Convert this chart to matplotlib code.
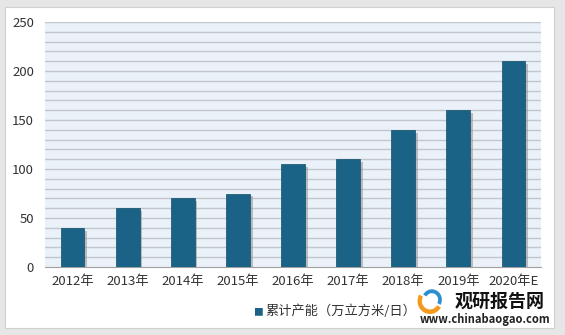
import matplotlib
matplotlib.use("Agg")
import matplotlib.pyplot as plt
from matplotlib.patches import Rectangle, Wedge
import matplotlib.patheffects as pe

plt.rcParams['font.family'] = ['Noto Sans CJK SC', 'DejaVu Sans']

categories = ["2012年", "2013年", "2014年", "2015年", "2016年", "2017年", "2018年", "2019年", "2020年E"]
values = [40, 60, 70, 75, 105, 110, 140, 160, 210]
series_name = "累计产能（万立方米/日）"
yticks = [0, 50, 100, 150, 200, 250]

W, H = 565, 335
fig = plt.figure(figsize=(W / 100, H / 100), dpi=100)
fig.patch.set_facecolor("#E6E6E6")

# white panel
panel = Rectangle((5 / W, 7 / H), 549 / W, 321 / H, transform=fig.transFigure,
                  facecolor="white", edgecolor="#D0D0D0", lw=0.8, zorder=-5)
fig.patches.append(panel)

ax = fig.add_axes([45 / W, (H - 267) / H, 496 / W, 245 / H])
ax.set_zorder(2)
ax.set_facecolor("#EAF1F8")
x = range(len(categories))
bars = ax.bar(x, values, width=0.43, color="#1A6386", zorder=3,
              edgecolor="#0F4E6B", linewidth=0.5)
for b in bars:
    b.set_path_effects([pe.SimplePatchShadow(offset=(2, -2), shadow_rgbFace="#888888", alpha=0.5), pe.Normal()])

ax.set_xlim(-0.5, len(categories) - 0.5)
ax.set_ylim(0, 250)
ax.set_yticks(yticks)
for v in range(10, 251, 10):
    ax.axhline(v, color="#C3C7CC", lw=1.0, zorder=1)
ax.set_xticks(list(x))
ax.set_xticklabels(categories)
for s in ["top", "right", "left"]:
    ax.spines[s].set_visible(False)
ax.spines["bottom"].set_color("#A0A0A0")
ax.tick_params(axis="both", length=0, labelsize=9.5, colors="#333333")
ax.tick_params(axis="x", pad=6)
ax.tick_params(axis="y", pad=8)

# legend
fig.text(263 / W, (H - 312) / H, "■", color="#1A6386", fontsize=7, ha="right", va="center")
fig.text(265 / W, (H - 311) / H, series_name, color="#333333", fontsize=9.5, ha="left", va="center")

# watermark
lax = fig.add_axes([415 / W, (H - 314) / H, 30 / W, 26 / H])
lax.set_xlim(-1.2, 1.2)
lax.set_ylim(-1.0, 1.0)
lax.axis("off")
lax.add_patch(Wedge((0, 0), 1.0, 150, 330, width=0.35, facecolor="#F39A1E"))
lax.add_patch(Wedge((0.15, 0.1), 0.8, -30, 150, width=0.3, facecolor="#2E8FD0"))
fig.text(455 / W, (H - 301) / H, "观研报告网", color="#111111", fontsize=13, fontweight="bold", ha="left", va="center")
fig.text(420 / W, (H - 320) / H, "www.chinabaogao.com", color="#222222", fontsize=8, fontweight="bold", ha="left", va="center")

fig.savefig("out.png", dpi=100, facecolor=fig.get_facecolor())
